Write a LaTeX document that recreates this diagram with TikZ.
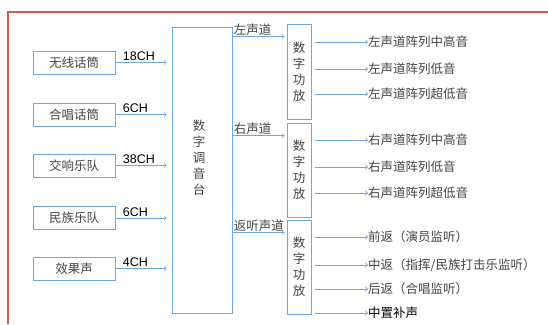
\documentclass[tikz,border=0pt]{standalone}
\usepackage{fontspec}
\setmainfont{Liberation Sans}
\newfontfamily\cjk{Noto Sans CJK SC}
\usetikzlibrary{positioning, calc}
\definecolor{framered}{HTML}{E8554E}
\definecolor{wire}{HTML}{6FA8DC}
\definecolor{ink}{HTML}{444444}
\tikzset{
  srcbox/.style={draw=wire, line width=0.9pt, minimum width=82pt, minimum height=23pt,
    inner sep=0pt, font=\cjk\fontsize{12.5}{14}\selectfont, text=ink},
  ampbox/.style={draw=wire, line width=0.9pt, minimum width=24pt, inner sep=0pt,
    align=center, font=\cjk\fontsize{12.5}{16}\selectfont, text=ink},
  vtext/.style={align=center, inner sep=0pt, font=\cjk\fontsize{12.5}{16}\selectfont, text=ink},
  outtext/.style={anchor=west, inner sep=0pt, font=\cjk\fontsize{12.5}{14}\selectfont, text=ink},
  chlabel/.style={anchor=south west, inner sep=1pt, font=\fontsize{12.5}{14}\selectfont},
  busname/.style={anchor=south west, inner sep=1pt, font=\cjk\fontsize{12.5}{14}\selectfont, text=ink},
  wirearrow/.style={draw=wire, line width=0.8pt, ->},
}
\begin{document}
\begin{tikzpicture}[x=1pt, y=-1pt]
    \useasboundingbox (0,0) rectangle (548,324);
    % frame
    \draw[framered, line width=1.6pt] (8,324) -- (8,12) -- (548,12);

    % sources
    \node[srcbox] (mic)   at (74,62.5)  {无线话筒};
    \node[srcbox] (choir) at (74,114.5) {合唱话筒};
    \node[srcbox] (orch)  at (74,165.5) {交响乐队};
    \node[srcbox] (folk)  at (74,218)   {民族乐队};
    \node[srcbox] (fx)    at (74,268.5) {效果声};

    % mixing console
    \node[draw=wire, line width=0.9pt, minimum width=60pt, minimum height=286pt, inner sep=0pt] (console) at (202,170) {};
    \node[vtext] (consoletxt) at (199,158) {数\\字\\调\\音\\台};

    % amplifiers
    \node[ampbox, minimum height=95pt] (ampL) at (299,71.5) {数\\字\\功\\放};
    \node[ampbox, minimum height=94pt] (ampR) at (299,170)  {数\\字\\功\\放};
    \node[ampbox, minimum height=94pt] (ampM) at (299,267)  {数\\字\\功\\放};

    \foreach \s/\n in {mic/18CH, choir/6CH, orch/38CH, folk/6CH, fx/4CH} {
        \draw[wirearrow, shorten >=5pt] (\s.east) -- (\s.east -| console.west)
            node[chlabel, pos=0, xshift=6pt] {\n};
    }

    % buses
    \coordinate (inL) at ($(ampL.north west)+(0,13)$);
    \coordinate (inR) at ($(ampR.north west)+(0,13)$);
    \coordinate (inM) at ($(ampM.north west)+(0,13)$);
    \draw[wirearrow, shorten >=2pt] (console.east |- inL) -- (inL) node[busname, pos=0] {左声道};
    \draw[wirearrow, shorten >=2pt] (console.east |- inR) -- (inR) node[busname, pos=0] {右声道};
    \draw[wirearrow, shorten >=2pt] (console.east |- inM) -- (inM) node[busname, pos=0] {返听声道};

    % outputs
    \node[outtext] (l1) at (368,42)  {左声道阵列中高音};
    \node[outtext] (l2) at (368,69)  {左声道阵列低音};
    \node[outtext] (l3) at (368,94)  {左声道阵列超低音};
    \node[outtext] (r1) at (368,140) {右声道阵列中高音};
    \node[outtext] (r2) at (368,167) {右声道阵列低音};
    \node[outtext] (r3) at (368,193) {右声道阵列超低音};
    \node[outtext] (m1) at (368,237) {前返（演员监听）};
    \node[outtext] (m2) at (368,265) {中返（指挥/民族打击乐监听）};
    \node[outtext] (m3) at (368,289) {后返（合唱监听）};
    \node[outtext, text=black] (m4) at (368,313) {中置补声};

    \foreach \a/\o in {ampL/l1, ampL/l2, ampL/l3, ampR/r1, ampR/r2, ampR/r3, ampM/m1, ampM/m2, ampM/m3, ampM/m4} {
        \draw[wirearrow, shorten <=4pt] (\o.west -| \a.east) -- (\o.west);
    }
\end{tikzpicture}
\end{document}
